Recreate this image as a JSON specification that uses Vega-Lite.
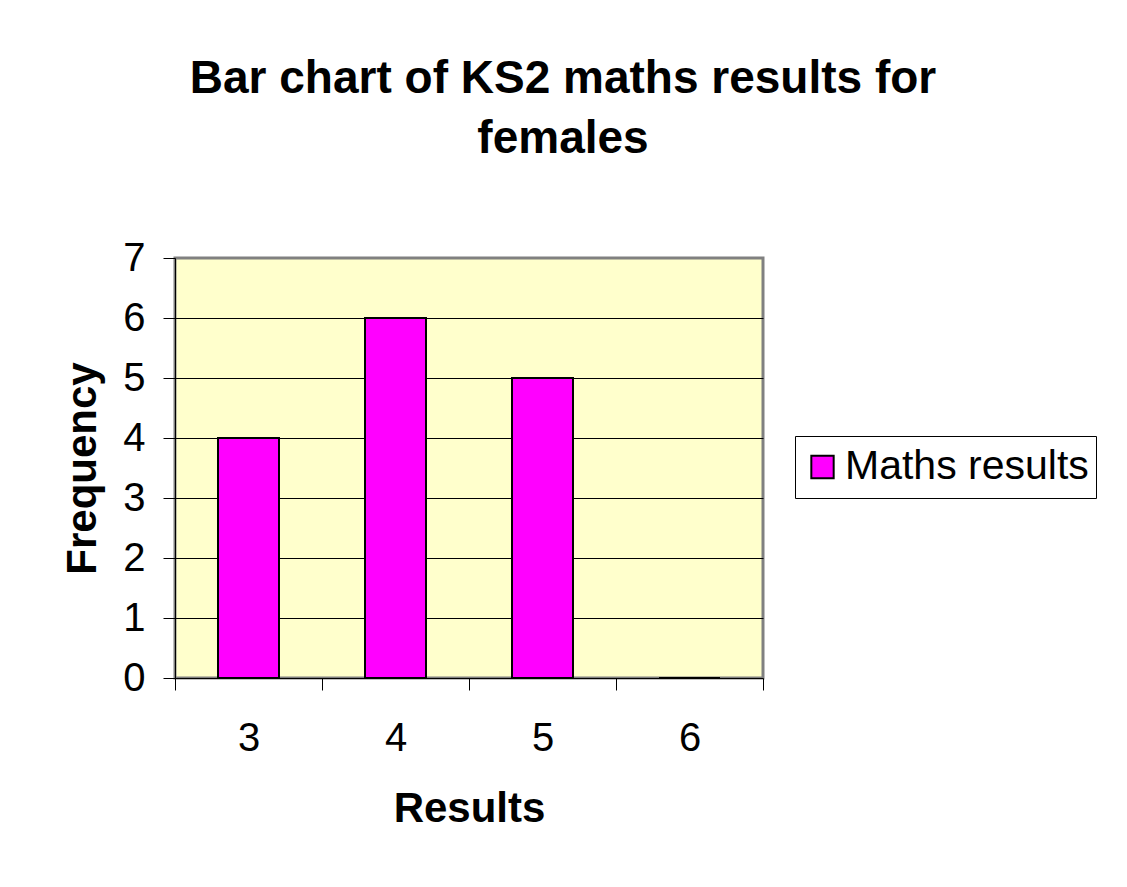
{
  "$schema": "https://vega.github.io/schema/vega-lite/v6.json",
  "width": 588,
  "height": 420,
  "autosize": {"type": "none"},
  "padding": {"left": 175, "top": 258, "right": 364, "bottom": 209},
  "background": "white",
  "title": {
    "text": ["Bar chart of KS2 maths results for", "females"],
    "anchor": "middle",
    "frame": "group",
    "dx": 94,
    "offset": 29,
    "baseline": "bottom",
    "lineHeight": 60,
    "font": "Liberation Sans",
    "fontSize": 46,
    "fontWeight": "bold",
    "color": "black"
  },
  "data": {
    "values": [
      {"result": "3", "frequency": 4, "series": "Maths results"},
      {"result": "4", "frequency": 6, "series": "Maths results"},
      {"result": "5", "frequency": 5, "series": "Maths results"},
      {"result": "6", "frequency": 0, "series": "Maths results"}
    ]
  },
  "mark": {"type": "bar", "stroke": "black", "strokeWidth": 2, "width": 61},
  "encoding": {
    "x": {
      "field": "result",
      "type": "ordinal",
      "scale": {"paddingInner": 0, "paddingOuter": 0},
      "axis": {
        "title": "Results",
        "labelAngle": 0,
        "tickBand": "extent",
        "tickSize": 12,
        "tickColor": "black",
        "domainColor": "black",
        "labelPadding": 28,
        "titlePadding": 30,
        "grid": false
      }
    },
    "y": {
      "field": "frequency",
      "type": "quantitative",
      "scale": {"domain": [0, 7], "nice": false},
      "axis": {
        "title": "Frequency",
        "values": [0, 1, 2, 3, 4, 5, 6, 7],
        "tickSize": 12,
        "tickColor": "black",
        "domainColor": "black",
        "labelPadding": 18,
        "titlePadding": 18,
        "grid": true,
        "gridColor": {"condition": {"test": "datum.value === 7 || datum.value === 0", "value": "#808080"}, "value": "black"}
      }
    },
    "color": {
      "field": "series",
      "type": "nominal",
      "scale": {"range": ["#FF00FF"]},
      "legend": {
        "title": null,
        "orient": "none",
        "legendX": 620,
        "legendY": 178,
        "symbolType": "square",
        "symbolSize": 500,
        "symbolStrokeColor": "black",
        "symbolStrokeWidth": 2,
        "labelFontSize": 41,
        "labelFont": "Liberation Sans",
        "labelColor": "black",
        "labelOffset": 2,
        "labelLimit": 400,
        "padding": 7,
        "clipHeight": 48,
        "strokeColor": "black",
        "fillColor": "white"
      }
    }
  },
  "config": {
    "view": {"fill": "#FFFFCC", "stroke": "#808080", "strokeWidth": 3},
    "axis": {
      "labelFont": "Liberation Sans",
      "labelFontSize": 40,
      "labelColor": "black",
      "titleFont": "Liberation Sans",
      "titleFontSize": 42,
      "titleFontWeight": "bold",
      "titleColor": "black"
    }
  }
}
